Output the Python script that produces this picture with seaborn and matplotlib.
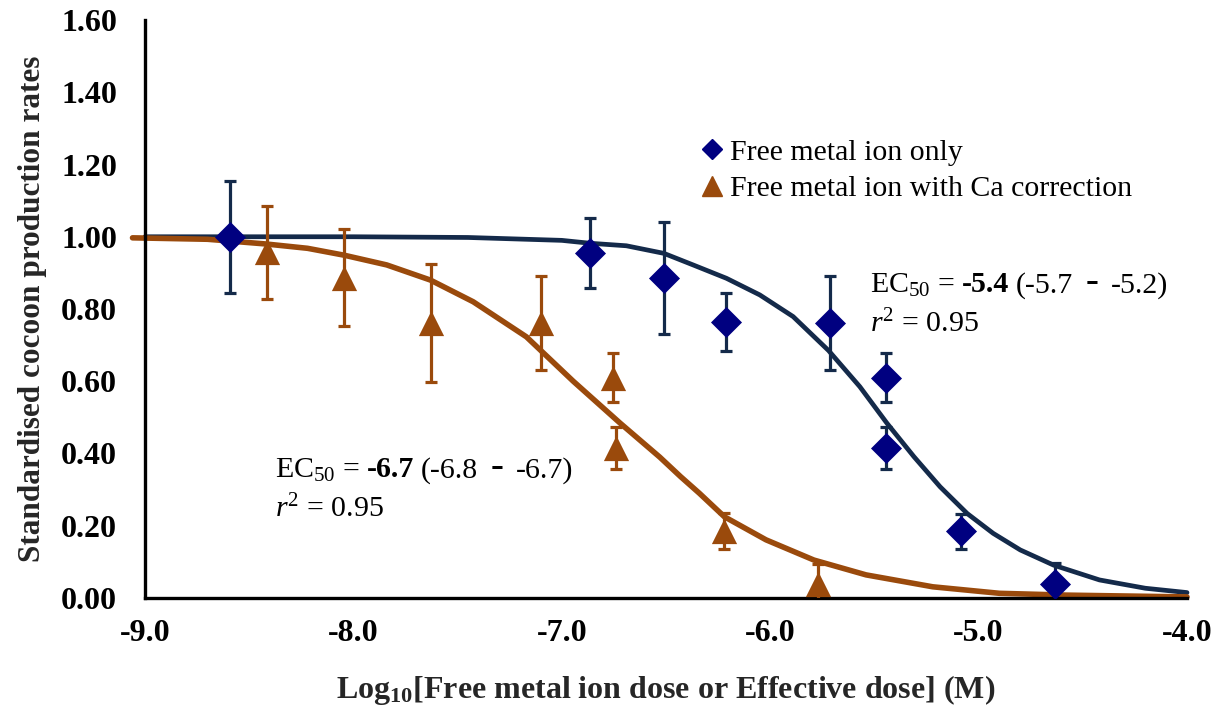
import numpy as np
import pandas as pd
import matplotlib
matplotlib.use("Agg")
import matplotlib.pyplot as plt
import seaborn as sns
from matplotlib.lines import Line2D
from matplotlib.offsetbox import TextArea, HPacker, AnnotationBbox

# ---------------- data ----------------
free_x = [-8.59, -6.865, -6.51, -6.21, -5.715, -5.445, -5.445, -5.085, -4.635]
free_y = [1.00, 0.955, 0.885, 0.765, 0.760, 0.610, 0.415, 0.185, 0.040]
free_err = [0.155, 0.097, 0.155, 0.080, 0.130, 0.067, 0.058, 0.048, 0.058]

ca_x = [-8.415, -8.045, -7.63, -7.10, -6.755, -6.74, -6.22, -5.77]
ca_y = [0.957, 0.887, 0.762, 0.761, 0.610, 0.415, 0.185, 0.040]
ca_err = [0.128, 0.134, 0.163, 0.130, 0.067, 0.058, 0.050, 0.055]

# fitted curves, points
free_curve_x = [-9.0, -8.0, -7.45, -7.0, -6.865, -6.69, -6.51, -6.37, -6.21, -6.05,
                -5.89, -5.72, -5.57, -5.44, -5.31, -5.185, -5.055, -4.93, -4.80,
                -4.64, -4.42, -4.2, -4.0]
free_curve_y = [1.0, 1.0, 0.998, 0.99, 0.982, 0.975, 0.954, 0.922, 0.885, 0.839,
                0.779, 0.685, 0.585, 0.484, 0.391, 0.308, 0.234, 0.179, 0.133,
                0.091, 0.050, 0.027, 0.015]

ca_curve_x = [-9.06, -8.70, -8.42, -8.22, -8.045, -7.84, -7.63, -7.425, -7.17, -6.945,
              -6.72, -6.53, -6.43, -6.34, -6.22, -6.02, -5.79, -5.54, -5.22, -4.90,
              -4.58, -4.0]
ca_curve_y = [0.997, 0.993, 0.98, 0.968, 0.949, 0.922, 0.88, 0.82, 0.723, 0.60,
              0.484, 0.39, 0.336, 0.29, 0.225, 0.161, 0.105, 0.064, 0.031, 0.013,
              0.008, 0.003]

x_ticks = [-9.0, -8.0, -7.0, -6.0, -5.0, -4.0]
y_ticks = [0.0, 0.2, 0.4, 0.6, 0.8, 1.0, 1.2, 1.4, 1.6]

series_labels = ["Free metal ion only", "Free metal ion with Ca correction"]

ec50_ca = ("-6.7", "(-6.8", "-6.7)")
ec50_free = ("-5.4", "(-5.7", "-5.2)")
r2_text = "0.95"

# ---------------- style ----------------
sns.set_theme(style="white")
plt.rcParams["font.family"] = ["Liberation Serif", "DejaVu Serif"]
plt.rcParams["axes.unicode_minus"] = False
plt.rcParams["mathtext.fontset"] = "custom"
plt.rcParams["mathtext.rm"] = "Liberation Serif"
plt.rcParams["mathtext.it"] = "Liberation Serif:italic"
plt.rcParams["mathtext.bf"] = "Liberation Serif:bold"

NAVY_LINE = "#142a4a"
NAVY_MARK = "#000080"
BROWN = "#9a4a0c"

fig = plt.figure(figsize=(12.29, 7.16), dpi=100)
ax = fig.add_axes([145 / 1229, 1 - 598 / 716, (1187 - 145) / 1229, (598 - 20) / 716])

free_curve = pd.DataFrame({"x": free_curve_x, "y": free_curve_y})
ca_curve = pd.DataFrame({"x": ca_curve_x, "y": ca_curve_y})
free_df = pd.DataFrame({"x": free_x, "y": free_y, "err": free_err})
ca_df = pd.DataFrame({"x": ca_x, "y": ca_y, "err": ca_err})

# curves
sns.lineplot(data=free_curve, x="x", y="y", ax=ax, color=NAVY_LINE, lw=3.4,
             sort=False, estimator=None, zorder=2)
sns.lineplot(data=ca_curve, x="x", y="y", ax=ax, color=BROWN, lw=4.0,
             sort=False, estimator=None, zorder=2)
for ln in ax.lines:
    ln.set_clip_on(False)

# error bars
ax.errorbar(free_df["x"], free_df["y"], yerr=free_df["err"], fmt="none",
            ecolor=NAVY_LINE, elinewidth=2.3, capsize=4, capthick=2.3, zorder=3)
ax.errorbar(ca_df["x"], ca_df["y"], yerr=ca_df["err"], fmt="none",
            ecolor=BROWN, elinewidth=2.3, capsize=4, capthick=2.3, zorder=3)

# markers
sns.scatterplot(data=free_df, x="x", y="y", ax=ax, marker="D", s=250,
                color=NAVY_MARK, edgecolor=NAVY_MARK, linewidth=0, zorder=4)
sns.scatterplot(data=ca_df, x="x", y="y", ax=ax, marker="^", s=330,
                color=BROWN, edgecolor=BROWN, linewidth=0, zorder=4)

# axes
ax.set_xlim(-9.0, -4.0)
ax.set_ylim(0.0, 1.6)
ax.set_xticks(x_ticks)
ax.set_yticks(y_ticks)
ax.set_xticklabels([f"{v:.1f}" for v in x_ticks])
ax.set_yticklabels([f"{v:.2f}" for v in y_ticks])
for s in ["top", "right"]:
    ax.spines[s].set_visible(False)
for s in ["left", "bottom"]:
    ax.spines[s].set_color("black")
    ax.spines[s].set_linewidth(2.4)
ax.tick_params(axis="both", direction="in", length=6, width=1.8, color="black",
               labelsize=23, labelcolor="black")
ax.tick_params(axis="x", pad=15)
ax.tick_params(axis="y", pad=20)
for lab in ax.get_xticklabels() + ax.get_yticklabels():
    lab.set_fontweight("bold")

ax.set_xlabel(r"Log$_{\mathbf{10}}$[Free metal ion dose or Effective dose] (M)",
              fontsize=23, fontweight="bold", labelpad=18)
ax.set_ylabel("Standardised cocoon production rates", fontsize=22.5,
              fontweight="bold", labelpad=10)
ax.grid(False)

# annotations
FS = 21.5


def ec_box(vals):
    def ta(s, bold=False, size=FS):
        return TextArea(s, textprops=dict(fontsize=size, color="black",
                                          fontweight="bold" if bold else "normal"))
    row1 = HPacker(children=[ta(r"EC$_{50}$ ="), ta(vals[0], True), ta(vals[1])],
                   align="baseline", pad=0, sep=5)
    row2 = HPacker(children=[row1, ta("-", True, 28), ta(vals[2])],
                   align="baseline", pad=0, sep=9)
    return row2


def r2_box():
    return TextArea(r"$r^{2}$ = " + r2_text, textprops=dict(fontsize=FS, color="black"))


for (x0, y0, vals) in [(-8.376, 0.36, ec50_ca), (-5.521, 0.872, ec50_free)]:
    ab = AnnotationBbox(ec_box(vals), (x0, y0), xycoords="data",
                        box_alignment=(0, 0.5), frameon=False, pad=0)
    ax.add_artist(ab)
for (x0, y0) in [(-8.376, 0.245), (-5.521, 0.757)]:
    ab = AnnotationBbox(r2_box(), (x0, y0), xycoords="data",
                        box_alignment=(0, 0.5), frameon=False, pad=0)
    ax.add_artist(ab)

# legend
handles = [
    Line2D([], [], marker="D", linestyle="none", color=NAVY_MARK, markersize=10),
    Line2D([], [], marker="^", linestyle="none", color=BROWN, markersize=14),
]
leg = ax.legend(handles, series_labels, loc="upper left",
                bbox_to_anchor=(700 / 1229, 1 - 139 / 716), bbox_transform=fig.transFigure,
                frameon=False, fontsize=21.5, handlelength=0.8, handletextpad=0.2,
                labelspacing=0.32, borderpad=0.0, borderaxespad=0.0)
for t in leg.get_texts():
    t.set_color("black")

fig.savefig("out.png", dpi=100)
